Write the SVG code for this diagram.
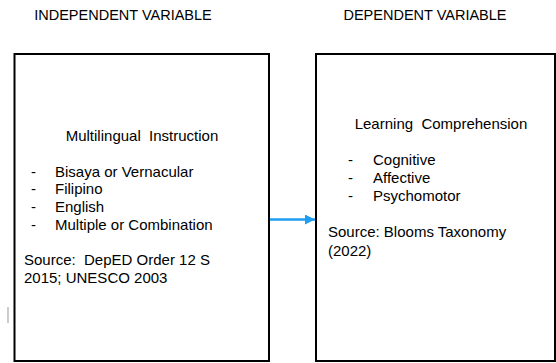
<svg xmlns="http://www.w3.org/2000/svg" width="556" height="363" viewBox="0 0 556 363">
  <style>
    text { font-family: "Liberation Sans", Arial, sans-serif; font-size: 15px; fill: #000; white-space: pre; }
    .head { font-size: 14.5px; }
    .box { fill: #fff; stroke: #000; stroke-width: 2; }
    .mid { text-anchor: middle; }
  </style>
  <defs>
    <marker id="head" markerWidth="4" markerHeight="4" refX="4" refY="2" orient="auto" markerUnits="strokeWidth">
      <path d="M0,0 L4,2 L0,4 Z" fill="#1e9ef0"/>
    </marker>
  </defs>
  <rect width="556" height="363" fill="#fff"/>

  <text x="123" y="20" class="mid head">INDEPENDENT VARIABLE</text>
  <text x="425" y="20" class="mid head">DEPENDENT VARIABLE</text>

  <g id="independent">
    <rect class="box" x="14.5" y="54" width="254.5" height="307"/>
    <text x="142" y="141" class="mid" xml:space="preserve">Multilingual  Instruction</text>
    <text x="31" y="177">-</text><text x="55" y="177">Bisaya or Vernacular</text>
    <text x="31" y="194">-</text><text x="55" y="194">Filipino</text>
    <text x="31" y="212">-</text><text x="55" y="212">English</text>
    <text x="31" y="230">-</text><text x="55" y="230">Multiple or Combination</text>
    <text x="24" y="265" xml:space="preserve">Source:  DepED Order 12 S</text>
    <text x="24" y="283">2015; UNESCO 2003</text>
  </g>

  <g id="dependent">
    <rect class="box" x="316" y="54" width="239" height="307"/>
    <text x="441" y="129" class="mid" xml:space="preserve">Learning  Comprehension</text>
    <text x="348" y="165">-</text><text x="373" y="165">Cognitive</text>
    <text x="348" y="183">-</text><text x="373" y="183">Affective</text>
    <text x="348" y="201">-</text><text x="373" y="201">Psychomotor</text>
    <text x="328" y="237">Source: Blooms Taxonomy</text>
    <text x="328" y="256">(2022)</text>
  </g>

  <!-- text cursor mark left of the first box -->
  <line x1="8" y1="307" x2="8" y2="323" stroke="#999" stroke-width="1"/>

  <g id="connectors">
    <line x1="270" y1="219.5" x2="315" y2="219.5" stroke="#1e9ef0" stroke-width="2.5" marker-end="url(#head)"/>
  </g>
</svg>
